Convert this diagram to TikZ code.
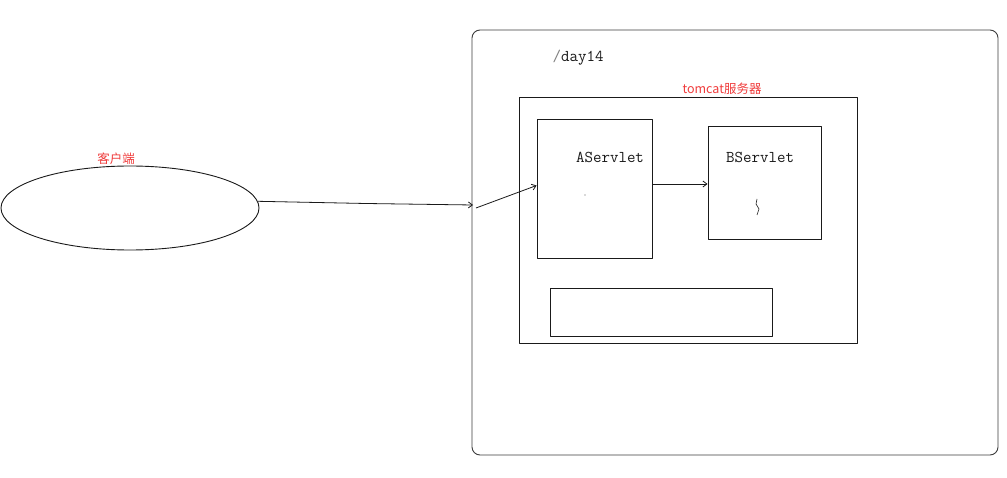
\documentclass[tikz,border=0pt]{standalone}
\usepackage{fontspec}
\newfontfamily\cjk{Noto Sans CJK SC}
\usetikzlibrary{arrows.meta,shapes.geometric}
\definecolor{ink}{HTML}{1A1A1A}
\definecolor{redpen}{HTML}{F03C3C}
\tikzset{fig/.style={line join=round,>={Straight Barb[length=4pt,width=6pt]}},
  box/.style={draw=ink,line width=0.9pt,inner sep=0pt},
  wire/.style={draw=ink,line width=0.8pt},
  note/.style={font=\cjk\fontsize{12.5}{14}\selectfont,redpen},
  code/.style={font=\ttfamily\fontsize{16.5}{18}\selectfont,ink}}

\begin{document}
\begin{tikzpicture}[fig,x=1pt,y=-1pt]
  \useasboundingbox[fill=white](0,0)rectangle(1007,478);
  % client side
  \node[box,ellipse,minimum width=258pt,minimum height=84pt](client)at(130,208){};
  \node[note](clientlbl)at(116,159){客户端};
  % web app /day14
  \node[box,draw=ink!85,rounded corners=8pt,minimum width=526pt,minimum height=425pt](app)at(735,242.5){};
  \node[code](ctx)at(578,58){{\color{gray}/}day14};
  \node[note](tomcatlbl)at(722,89){tomcat服务器};
  \node[box,minimum width=338pt,minimum height=246pt](tomcat)at(688,220){};
  \node[box,minimum width=115pt,minimum height=139pt](aservlet)at(594.5,188.5){};
  \node[code]at(610,157){AServlet};
  \node[box,minimum width=113pt,minimum height=113pt](bservlet)at(764.5,182.5){};
  \node[code]at(760,157){BServlet};
  \node[box,minimum width=222pt,minimum height=48pt](store)at(661,312){};
  % request path
  \coordinate(gate)at(473,205);
  \draw[wire,->](client.3)--(366,203.5)--(gate);
  \draw[wire,->]([shift={(3,3)}]gate)--([yshift=3pt]aservlet.west);
  \draw[wire,->](aservlet.east|-652,184)--(bservlet.west|-710,184);
  % stray pen marks
  \fill[ink!70](585,195)circle(0.6pt);
  \draw[ink,line width=0.6pt](757,199)--(756,204)--(759,209)--(757,215);
\end{tikzpicture}
\end{document}
